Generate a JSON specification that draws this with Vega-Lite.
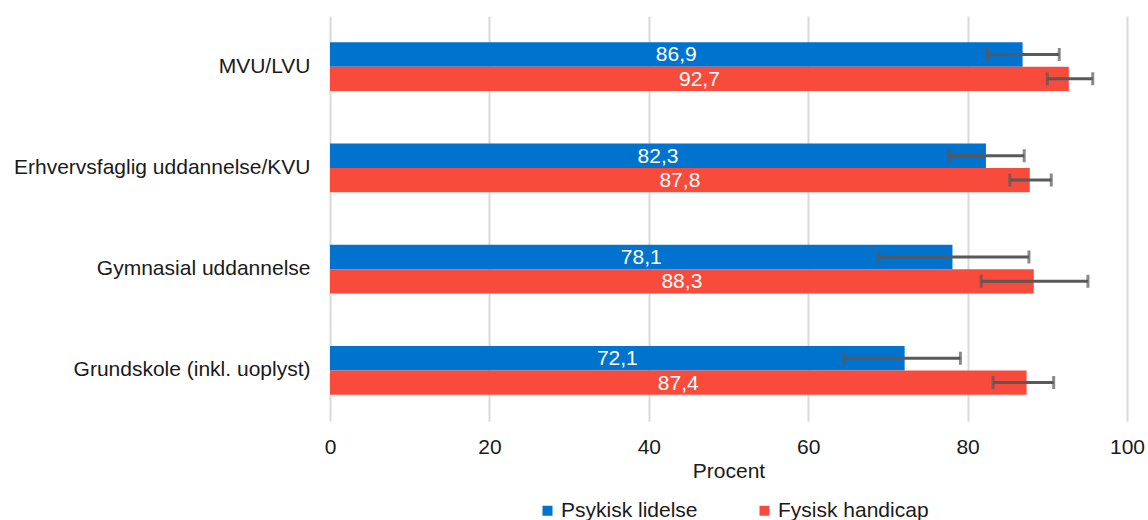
{
  "$schema": "https://vega.github.io/schema/vega-lite/v6.json",
  "width": 797,
  "height": 405,
  "autosize": "none",
  "padding": {"left": 330, "top": 16, "right": 21, "bottom": 99},
  "config": {
    "locale": {"number": {"decimal": ",", "thousands": ".", "grouping": [3], "currency": ["", " kr."]}},
    "font": "Liberation Sans",
    "view": {"stroke": null}
  },
  "data": {
    "values": [
      {"uddannelse": "MVU/LVU", "gruppe": "Psykisk lidelse", "value": 86.9, "lo": 82.5, "hi": 91.5},
      {"uddannelse": "MVU/LVU", "gruppe": "Fysisk handicap", "value": 92.7, "lo": 90.0, "hi": 95.7},
      {"uddannelse": "Erhvervsfaglig uddannelse/KVU", "gruppe": "Psykisk lidelse", "value": 82.3, "lo": 77.7, "hi": 87.1},
      {"uddannelse": "Erhvervsfaglig uddannelse/KVU", "gruppe": "Fysisk handicap", "value": 87.8, "lo": 85.3, "hi": 90.5},
      {"uddannelse": "Gymnasial uddannelse", "gruppe": "Psykisk lidelse", "value": 78.1, "lo": 68.8, "hi": 87.7},
      {"uddannelse": "Gymnasial uddannelse", "gruppe": "Fysisk handicap", "value": 88.3, "lo": 81.7, "hi": 95.1},
      {"uddannelse": "Grundskole (inkl. uoplyst)", "gruppe": "Psykisk lidelse", "value": 72.1, "lo": 64.5, "hi": 79.1},
      {"uddannelse": "Grundskole (inkl. uoplyst)", "gruppe": "Fysisk handicap", "value": 87.4, "lo": 83.2, "hi": 90.8}
    ]
  },
  "encoding": {
    "y": {
      "field": "uddannelse",
      "type": "nominal",
      "sort": ["MVU/LVU", "Erhvervsfaglig uddannelse/KVU", "Gymnasial uddannelse", "Grundskole (inkl. uoplyst)"],
      "scale": {"paddingInner": 0.52, "paddingOuter": 0.26},
      "axis": {"title": null, "domain": false, "ticks": false, "labelFontSize": 21, "labelColor": "#1a1a1a", "labelPadding": 20, "labelLimit": 400}
    },
    "yOffset": {
      "field": "gruppe",
      "type": "nominal",
      "sort": ["Psykisk lidelse", "Fysisk handicap"],
      "scale": {"paddingInner": 0, "paddingOuter": 0}
    }
  },
  "layer": [
    {
      "mark": {"type": "bar"},
      "encoding": {
        "x": {
          "field": "value",
          "type": "quantitative",
          "scale": {"domain": [0, 100], "nice": false},
          "axis": {
            "title": "Procent",
            "titleFontSize": 21,
            "titleFontWeight": "normal",
            "titleColor": "#1a1a1a",
            "titlePadding": 3,
            "labelFontSize": 21,
            "labelColor": "#1a1a1a",
            "labelPadding": 15,
            "labelFlush": false,
            "labelOverlap": false,
            "labelBound": false,
            "domain": false,
            "ticks": false,
            "values": [0, 20, 40, 60, 80, 100],
            "grid": true,
            "gridColor": "#d9d9d9",
            "gridWidth": 2
          }
        },
        "color": {
          "field": "gruppe",
          "type": "nominal",
          "sort": ["Psykisk lidelse", "Fysisk handicap"],
          "scale": {"domain": ["Psykisk lidelse", "Fysisk handicap"], "range": ["#0073cf", "#f94b3c"]},
          "legend": {
            "title": null,
            "orient": "none",
            "legendX": 207,
            "legendY": 484,
            "direction": "horizontal",
            "symbolType": "square",
            "symbolSize": 100,
            "symbolStrokeWidth": 0,
            "labelFontSize": 21,
            "labelColor": "#1a1a1a",
            "columnPadding": 56,
            "labelOffset": 3
          }
        }
      }
    },
    {
      "transform": [{"calculate": "datum.value / 2", "as": "mid"}],
      "mark": {"type": "text", "color": "white", "fontSize": 21, "align": "center", "baseline": "middle", "dy": 1},
      "encoding": {
        "x": {"field": "mid", "type": "quantitative"},
        "text": {"field": "value", "type": "quantitative", "format": ".1f"}
      }
    },
    {
      "mark": {"type": "rule", "color": "#595959", "strokeWidth": 3},
      "encoding": {
        "x": {"field": "lo", "type": "quantitative"},
        "x2": {"field": "hi"}
      }
    },
    {
      "mark": {"type": "tick", "color": "#595959", "thickness": 3, "size": 13, "orient": "vertical"},
      "encoding": {"x": {"field": "lo", "type": "quantitative"}}
    },
    {
      "mark": {"type": "tick", "color": "#595959", "thickness": 3, "size": 13, "orient": "vertical"},
      "encoding": {"x": {"field": "hi", "type": "quantitative"}}
    }
  ]
}
